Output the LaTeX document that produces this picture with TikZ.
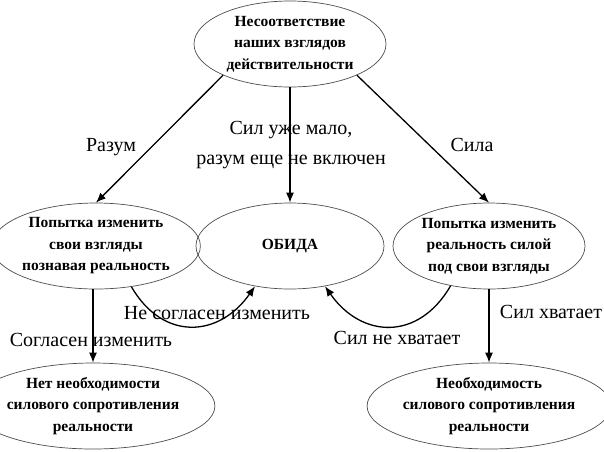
\documentclass[tikz,border=0pt]{standalone}
\usepackage{fontspec}
\setmainfont{Liberation Serif}
\usetikzlibrary{shapes.geometric,arrows.meta}
\begin{document}
\begin{tikzpicture}[x=1pt,y=-1pt,
  ell/.style={ellipse,draw=black!70,line width=0.7pt,inner sep=0pt,align=center,
    font=\fontsize{15.5}{21.5}\selectfont\bfseries},
  arr/.style={line width=1.3pt,-{Latex[length=10pt,width=8pt]}},
  lab/.style={font=\fontsize{20}{30}\selectfont,align=center,inner sep=0pt}]
\useasboundingbox (0,0) rectangle (604,451);
\node[ell,minimum width=192pt,minimum height=86pt] (top) at (290,44)
  {Несоответствие\\наших взглядов\\действительности};
\node[ell,minimum width=192pt,minimum height=86pt] (left) at (96,246)
  {Попытка изменить\\свои взгляды\\познавая реальность};
\node[ell,minimum width=188pt,minimum height=86pt] (mid) at (290,246) {ОБИДА};
\node[ell,minimum width=192pt,minimum height=86pt] (right) at (489,246)
  {Попытка изменить\\реальность силой\\под свои взгляды};
\node[ell,minimum width=182pt,minimum height=86pt] (bl) at (93,406)
  {Нет необходимости\\силового сопротивления\\реальности};
\node[ell,minimum width=190pt,minimum height=86pt] (br) at (489,406)
  {Необходимость\\силового сопротивления\\реальности};
\draw[arr] (top.205) -- (left.north);
\draw[arr] (top.south) -- (mid.north);
\draw[arr] (top.335) -- (right.north);
\draw[arr] (left.south -| bl.north) -- (bl.north);
\draw[arr] (right.south) -- (br.north);
\draw[arr] (left.-49) to[out=-60,in=-125,looseness=1.3] (mid.229);
\draw[arr] (right.226) to[out=-120,in=-55,looseness=1.3] (mid.-49);
\node[lab] (l1) at (111,147) {Разум};
\node[lab] (l2) at (291,145) {Сил уже мало,\\разум еще не включен};
\node[lab] (l3) at (472,145) {Сила};
\node[lab] (l4) at (91,340) {Согласен изменить};
\node[lab] (l5) at (217,313) {Не согласен изменить};
\node[lab] (l6) at (397,338) {Сил не хватает};
\node[lab] (l7) at (551,312) {Сил хватает};
\end{tikzpicture}
\end{document}
